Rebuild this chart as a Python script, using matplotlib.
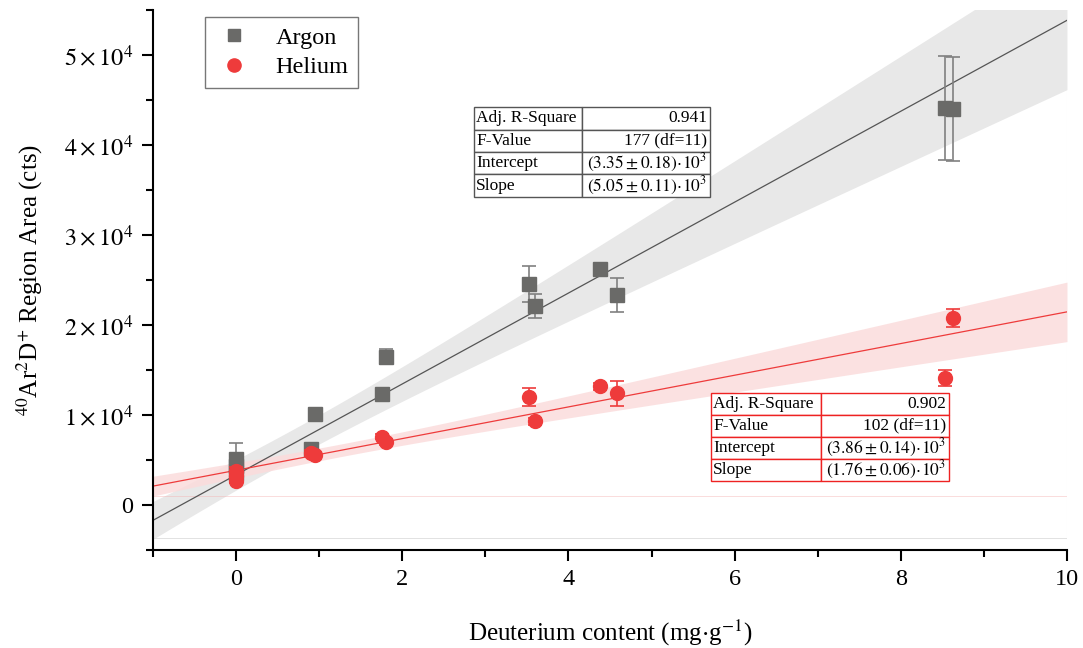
import matplotlib
matplotlib.use("Agg")
import matplotlib.pyplot as plt
import numpy as np
from matplotlib.lines import Line2D
from matplotlib.ticker import FuncFormatter, MultipleLocator

plt.rcParams['font.family'] = ['Liberation Serif', 'DejaVu Serif']
plt.rcParams['mathtext.fontset'] = 'stix'

# Datos
ar_x = [0, 0, 0, 0.90, 0.95, 1.75, 1.80, 3.52, 3.60, 4.38, 4.58, 8.53, 8.63]
ar_y = [5100, 4300, 3600, 6200, 10100, 12300, 16500, 24600, 22100, 26200, 23300, 44100, 44000]
ar_err = [1800, 600, 500, 300, 400, 300, 800, 2000, 1300, 400, 1900, 5800, 5800]

he_x = [0, 0, 0, 0.90, 0.95, 1.75, 1.80, 3.52, 3.60, 4.38, 4.58, 8.53, 8.63]
he_y = [3800, 3200, 2700, 5800, 5600, 7600, 7000, 12000, 9300, 13200, 12400, 14100, 20800]
he_err = [400, 400, 300, 300, 300, 300, 300, 1000, 400, 400, 1400, 900, 1000]

# Parametros del ajuste (de las tablas)
ar_fit = dict(intercept=3350, slope=5050)
he_fit = dict(intercept=3860, slope=1760)
ar_table = [["Adj. R-Square", "0.941"], ["F-Value", "177 (df=11)"],
            ["Intercept", r"$(3.35 \pm 0.18)\!\cdot\!10^{3}$"],
            ["Slope", r"$(5.05 \pm 0.11)\!\cdot\!10^{3}$"]]
he_table = [["Adj. R-Square", "0.902"], ["F-Value", "102 (df=11)"],
            ["Intercept", r"$(3.86 \pm 0.14)\!\cdot\!10^{3}$"],
            ["Slope", r"$(1.76 \pm 0.06)\!\cdot\!10^{3}$"]]

ar_col = '#6a6a68'
he_col = '#ee3b3b'

fig = plt.figure(figsize=(10.83, 6.48), dpi=100)
ax = fig.add_axes([0.1413, 0.1512, 0.8439, 0.8334])

xf = np.linspace(-1, 10, 200)


def band(fit, a, b, xc):
    yc = fit['intercept'] + fit['slope'] * xf
    h = np.sqrt(a ** 2 + (b * (xf - xc)) ** 2)
    return yc, yc - h, yc + h


ar_c, ar_lo, ar_hi = band(ar_fit, 1600, 808, 0.68)
he_c, he_lo, he_hi = band(he_fit, 700, 371, 1.29)

ax.fill_between(xf, ar_lo, ar_hi, color='#e8e8e8', lw=0, zorder=1)
ax.fill_between(xf, he_lo, he_hi, color='#fbdcdc', alpha=0.85, lw=0, zorder=1)
ax.plot(xf, ar_c, color='#555555', lw=0.9, zorder=2)
ax.plot(xf, he_c, color=he_col, lw=0.9, zorder=2)

# lineas tenues de los limites de las bandas
ax.plot([-1, 10], [1000, 1000], color='#f4b0b0', lw=0.6, alpha=0.5, zorder=1)
ax.plot([-1, 10], [-3700, -3700], color='#dddddd', lw=0.6, zorder=1)
ax.plot([10, 10], [-3700, 55000], color='#eeeeee', lw=0.8, zorder=1)

ax.errorbar(ar_x, ar_y, yerr=ar_err, fmt='s', color=ar_col, ms=9.5,
            ecolor='#808080', elinewidth=1.2, capsize=5, capthick=1.2, zorder=4)
ax.errorbar(he_x, he_y, yerr=he_err, fmt='o', color=he_col, ms=10,
            ecolor=he_col, elinewidth=1.2, capsize=5, capthick=1.2, zorder=5)

ax.set_xlim(-1, 10)
ax.set_ylim(-5000, 55000)

for s in ['top', 'right']:
    ax.spines[s].set_visible(False)
for s in ['left', 'bottom']:
    ax.spines[s].set_linewidth(1.5)

ax.xaxis.set_major_locator(MultipleLocator(2))
ax.xaxis.set_minor_locator(MultipleLocator(1))
ax.yaxis.set_major_locator(MultipleLocator(10000))
ax.yaxis.set_minor_locator(MultipleLocator(5000))


def yfmt(v, pos):
    if abs(v) < 1:
        return "0"
    return r"$%d\times10^{4}$" % round(v / 10000)


ax.yaxis.set_major_formatter(FuncFormatter(yfmt))
ax.tick_params(which='major', direction='out', length=8, width=1.5, labelsize=17.5, pad=6)
ax.tick_params(which='minor', direction='out', length=5, width=1.5)

ax.set_xlabel(r"Deuterium content (mg$\cdot$g$^{-1}$)", fontsize=18, labelpad=20)
ax.set_ylabel(r"$^{40}$Ar$^{2}$D$^{+}$ Region Area (cts)", fontsize=18, labelpad=14)

handles = [Line2D([], [], ls='none', marker='s', color=ar_col, ms=9),
           Line2D([], [], ls='none', marker='o', color=he_col, ms=9.5)]
leg = ax.legend(handles, ['Argon', 'Helium'], loc='upper left',
                bbox_to_anchor=(0.057, 0.987), borderaxespad=0, fontsize=17.5,
                frameon=True, fancybox=False, edgecolor='#555555',
                handletextpad=0.9, borderpad=0.4, labelspacing=0.3,
                handlelength=1.6)
leg.get_frame().set_linewidth(1.0)


def draw_table(data, bbox, edge):
    t = ax.table(cellText=data, colWidths=[0.46, 0.54], bbox=bbox, zorder=6)
    t.auto_set_font_size(False)
    for (r, c), cell in t.get_celld().items():
        cell.set_edgecolor(edge)
        cell.set_linewidth(1.0)
        cell.set_facecolor('white')
        cell.get_text().set_fontsize(12.5)
        cell.PAD = 0.02
        cell.get_text().set_ha('left' if c == 0 else 'right')
    return t


draw_table(ar_table, [0.351, 0.654, 0.258, 0.166], '#555555')
draw_table(he_table, [0.6105, 0.128, 0.2605, 0.163], '#ee2222')

fig.savefig('out.png', dpi=100)
